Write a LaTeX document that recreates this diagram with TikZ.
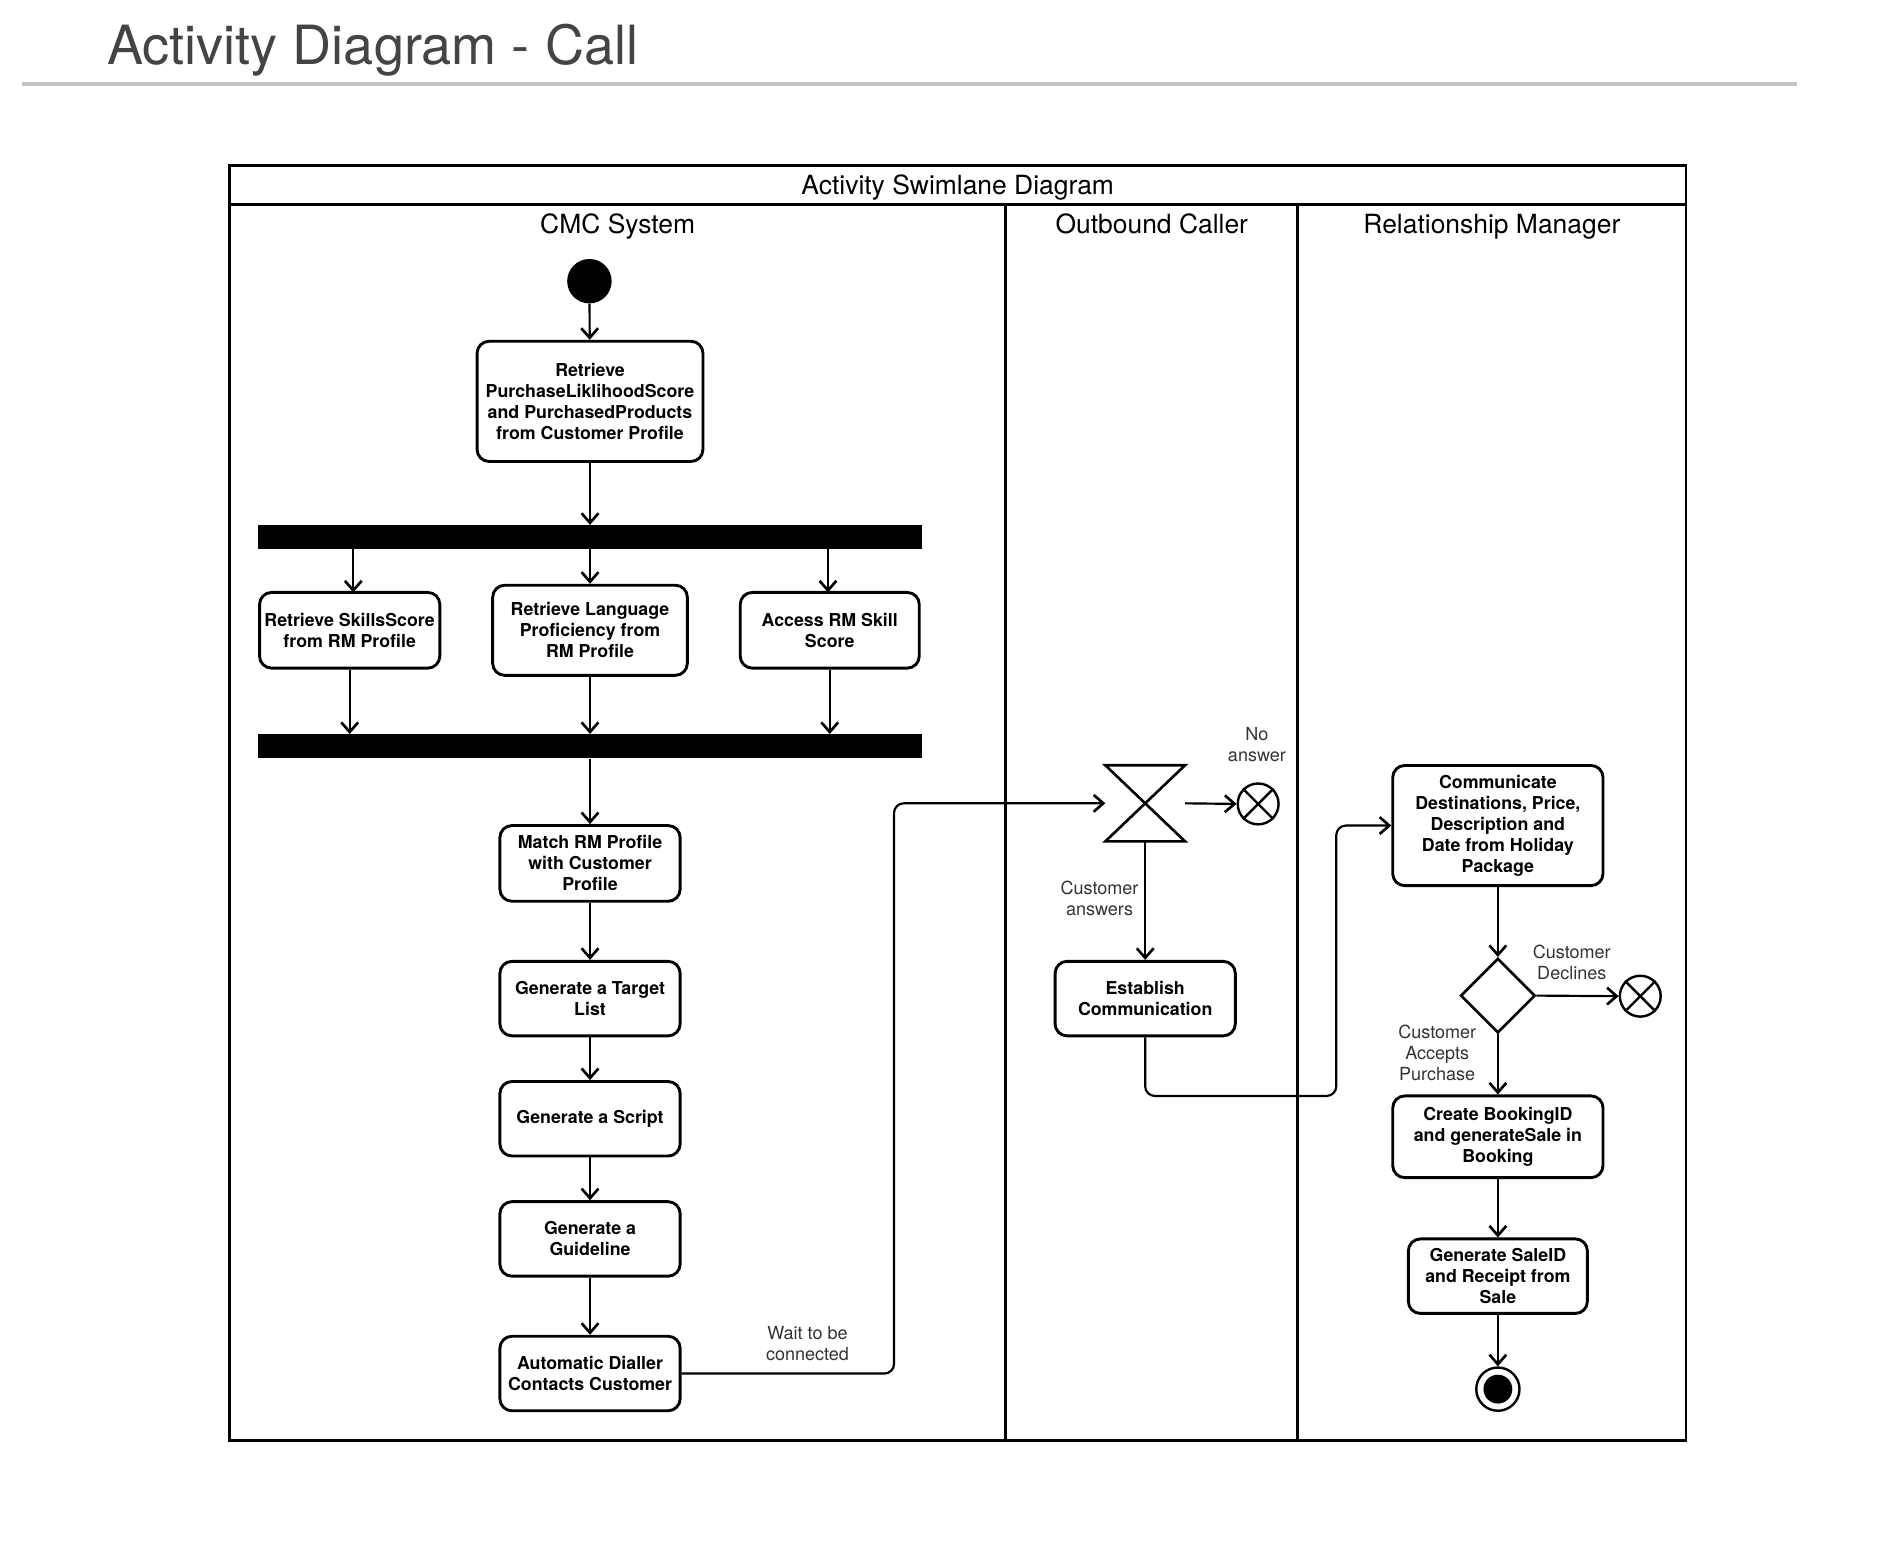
\documentclass[tikz,border=0pt]{standalone}
\usepackage{fontspec}
\setmainfont{TeX Gyre Heros}
\usetikzlibrary{arrows.meta,shapes.geometric}
\definecolor{titlegray}{HTML}{444444}
\definecolor{rulegray}{HTML}{C4C4C4}
\definecolor{labelgray}{HTML}{333333}
\begin{document}
\begin{tikzpicture}[x=1bp,y=-1bp,
  actbox/.style={draw, rectangle, rounded corners=10bp, line width=2.4bp, inner sep=0pt, align=center,
     font=\fontsize{14.8bp}{17.5bp}\selectfont\bfseries, fill=white},
  bar/.style={fill=black, draw=none, rectangle, inner sep=0pt, minimum width=552bp, minimum height=20bp},
  arr/.style={line width=1.8bp, -{Straight Barb[length=8bp,width=14bp,line width=2.2bp]}},
  lbl/.style={font=\fontsize{15bp}{17.5bp}\selectfont, text=labelgray, align=center, inner sep=0pt},
  lane/.style={font=\fontsize{22bp}{26bp}\selectfont, inner sep=0pt, anchor=base},
  xcirc/.style={draw, circle, line width=2bp, minimum size=34bp, inner sep=0pt},
]
\useasboundingbox (0,0) rectangle (1567,1298);

% title and rule
\node[anchor=base west, inner sep=0pt, text=titlegray, font=\fontsize{45bp}{50bp}\selectfont] (title) at (89,54) {Activity Diagram - Call};
\coordinate (ruleL) at (18,70);
\coordinate (ruleR) at (1495,70);
\draw[rulegray, line width=3bp] (ruleL) -- (ruleR);

% swimlane frame
\draw[line width=2.4bp] (191,138) rectangle (1403,1199);
\draw[line width=2.4bp] (191,170) -- (1403,170);
\draw[line width=2.4bp] (837,170) -- (837,1199);
\draw[line width=2.4bp] (1080,170) -- (1080,1199);
\node[lane] (hdr) at (797,162) {Activity Swimlane Diagram};
\node[lane] (lane1) at (514,194) {CMC System};
\node[lane] (lane2) at (958.5,194) {Outbound Caller};
\node[lane] (lane3) at (1241.5,194) {Relationship Manager};

% CMC System lane
\node[circle, fill=black, minimum size=37bp, inner sep=0pt] (start) at (490.5,234) {};
\node[actbox, minimum width=188bp, minimum height=100bp] (b1) at (491,334)
  {Retrieve\\PurchaseLiklihoodScore\\and PurchasedProducts\\from Customer Profile};
\node[bar] (bar1) at (491,447) {};
\node[actbox, minimum width=150bp, minimum height=63bp] (b2) at (291,524.5)
  {Retrieve SkillsScore\\from RM Profile};
\node[actbox, minimum width=162bp, minimum height=75bp] (b3) at (491,524.5)
  {Retrieve Language\\Proficiency from\\RM Profile};
\node[actbox, minimum width=149bp, minimum height=63bp] (b4) at (690.5,524.5)
  {Access RM Skill\\Score};
\node[bar] (bar2) at (491,621) {};
\node[actbox, minimum width=150bp, minimum height=63bp] (b5) at (491,718.5)
  {Match RM Profile\\with Customer\\Profile};
\node[actbox, minimum width=150bp, minimum height=62bp] (b6) at (491,831)
  {Generate a Target\\List};
\node[actbox, minimum width=150bp, minimum height=62bp] (b7) at (491,931)
  {Generate a Script};
\node[actbox, minimum width=150bp, minimum height=62bp] (b8) at (491,1031)
  {Generate a\\Guideline};
\node[actbox, minimum width=150bp, minimum height=62bp] (b9) at (491,1143)
  {Automatic Dialler\\Contacts Customer};

\draw[arr] (start) -- (b1);
\draw[arr] (b1) -- (bar1);
\draw[arr] (bar1.south -| 294,0) -- (294,493);
\draw[arr] (bar1.south -| b3.north) -- (b3.north);
\draw[arr] (bar1.south -| 689,0) -- (689,493);
\draw[arr] (b2.south) -- (b2.south |- bar2.north);
\draw[arr] (b3.south) -- (b3.south |- bar2.north);
\draw[arr] (b4.south) -- (b4.south |- bar2.north);
\draw[arr] (bar2) -- (b5);
\draw[arr] (b5) -- (b6);
\draw[arr] (b6) -- (b7);
\draw[arr] (b7) -- (b8);
\draw[arr] (b8) -- (b9);

% Outbound Caller lane
\node[minimum width=66bp, minimum height=63bp, inner sep=0pt] (hg) at (953,668.5) {};
\draw[line width=2.2bp, line join=miter] (hg.north west) -- (hg.north east) -- (hg.south west) -- (hg.south east) -- cycle;
\node[xcirc] (x1) at (1047,669) {};
\draw[line width=2bp] (x1.north west) -- (x1.south east) (x1.north east) -- (x1.south west);
\node[actbox, minimum width=150bp, minimum height=62bp] (b10) at (953,831)
  {Establish\\Communication};

\coordinate (bendA) at (744,900);
\draw[arr, rounded corners=8bp] (b9.east) -| (bendA) |- (hg.west);
\node[lbl] (lwait) at (672,1118) {Wait to be\\connected};

\draw[arr] (hg.east) -- (x1.west);
\node[lbl] (lnoans) at (1046,620) {No\\answer};
\draw[arr] (hg.south) -- (b10.north);
\node[lbl] (lans) at (915,748) {Customer\\answers};

% Relationship Manager lane
\node[actbox, minimum width=175bp, minimum height=100bp] (b11) at (1246.5,687)
  {Communicate\\Destinations, Price,\\Description and\\Date from Holiday\\Package};
\node[diamond, draw, line width=2.2bp, minimum width=62bp, minimum height=62bp, inner sep=0pt] (dec) at (1246.5,828.5) {};
\node[xcirc] (x2) at (1365,829) {};
\draw[line width=2bp] (x2.north west) -- (x2.south east) (x2.north east) -- (x2.south west);
\node[actbox, minimum width=175bp, minimum height=68bp] (b12) at (1246.5,946)
  {Create BookingID\\and generateSale in\\Booking};
\node[actbox, minimum width=149bp, minimum height=62bp] (b13) at (1246.5,1062)
  {Generate SaleID\\and Receipt from\\Sale};
\node[circle, draw, line width=2bp, minimum size=36bp, inner sep=0pt] (stop) at (1246.5,1156) {};
\fill (stop.center) circle (12bp);

\coordinate (bendB) at (1112,912);
\draw[arr, rounded corners=8bp] (b10.south) |- (bendB) |- (b11.west);

\draw[arr] (b11) -- (dec);
\draw[arr] (dec.east) -- (x2.west);
\node[lbl] (ldecl) at (1308,801) {Customer\\Declines};
\draw[arr] (dec.south) -- (b12.north);
\node[lbl] (lacc) at (1196,876) {Customer\\Accepts\\Purchase};
\draw[arr] (b12) -- (b13);
\draw[arr] (b13) -- (stop);
\end{tikzpicture}
\end{document}
